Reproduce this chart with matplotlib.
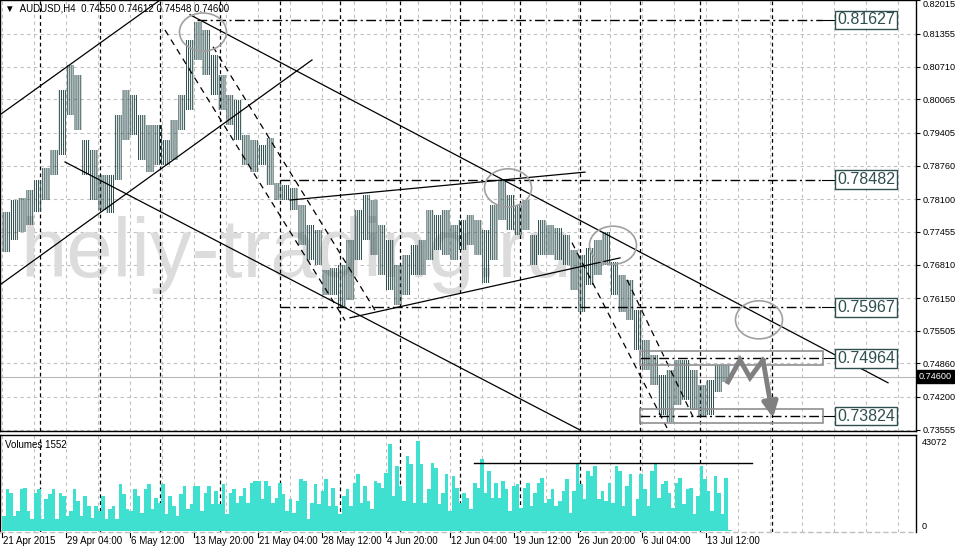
import numpy as np
import matplotlib
matplotlib.use("Agg")
import matplotlib.pyplot as plt
from matplotlib.patches import Ellipse, Rectangle

# ---------------- data ----------------
# H4 bars, sampled every 4 bars (bar 0 = 21 Apr 2015 20:00)
bar_high = [0.7784, 0.7808, 0.7812, 0.7828, 0.7848, 0.7871, 0.7907, 0.8025, 0.8074, 0.8054,
            0.7926, 0.7907, 0.7857, 0.7857, 0.7976, 0.8025, 0.8015, 0.7976, 0.7956, 0.7956,
            0.7926, 0.7966, 0.8015, 0.8123, 0.8159, 0.8143, 0.8094, 0.8054, 0.8015, 0.8005,
            0.7936, 0.7926, 0.7917, 0.7930, 0.7842, 0.7838, 0.7832, 0.7798, 0.7759, 0.7749,
            0.7670, 0.7674, 0.7680, 0.7729, 0.7788, 0.7818, 0.7808, 0.7759, 0.7729, 0.7680,
            0.7700, 0.7720, 0.7729, 0.7788, 0.7779, 0.7788, 0.7759, 0.7769, 0.7779, 0.7769,
            0.7749, 0.7798, 0.7848, 0.7818, 0.7798, 0.7808, 0.7739, 0.7769, 0.7759, 0.7753,
            0.7739, 0.7710, 0.7700, 0.7714, 0.7729, 0.7745, 0.7686, 0.7660, 0.7651, 0.7591,
            0.7532, 0.7503, 0.7463, 0.7473, 0.7493, 0.7493, 0.7473, 0.7444, 0.7454, 0.7483,
            0.7483]
bar_low = [0.7706, 0.7729, 0.7745, 0.7759, 0.7784, 0.7808, 0.7857, 0.7897, 0.7976, 0.7946,
           0.7857, 0.7808, 0.7788, 0.7782, 0.7848, 0.7926, 0.7936, 0.7887, 0.7863, 0.7877,
           0.7877, 0.7887, 0.7946, 0.7985, 0.8084, 0.8054, 0.8015, 0.7985, 0.7956, 0.7926,
           0.7877, 0.7863, 0.7877, 0.7838, 0.7808, 0.7808, 0.7788, 0.7720, 0.7690, 0.7680,
           0.7621, 0.7621, 0.7595, 0.7611, 0.7690, 0.7729, 0.7700, 0.7660, 0.7631, 0.7601,
           0.7621, 0.7660, 0.7660, 0.7690, 0.7710, 0.7700, 0.7690, 0.7710, 0.7720, 0.7700,
           0.7645, 0.7690, 0.7769, 0.7749, 0.7739, 0.7749, 0.7680, 0.7700, 0.7700, 0.7690,
           0.7680, 0.7631, 0.7587, 0.7641, 0.7660, 0.7680, 0.7621, 0.7587, 0.7572, 0.7513,
           0.7473, 0.7444, 0.7385, 0.7371, 0.7404, 0.7414, 0.7394, 0.7381, 0.7385, 0.7430,
           0.7450]

# tick volume (thousands), left to right
volume_k = [6.9, 19.4, 17.6, 6.9, 9.3, 19.4, 19.9, 9.3, 5.6, 17.6, 19.4, 5.6, 14.8, 17.1, 19.4,
            5.6, 17.6, 16.2, 6.9, 9.3, 19.4, 13.9, 6.9, 16.2, 11.6, 6.0, 11.6, 9.3, 16.2, 5.6,
            10.2, 11.6, 5.6, 21.8, 17.1, 10.2, 9.3, 19.4, 16.2, 8.3, 19.4, 21.8, 10.2, 15.3, 13.0,
            21.8, 7.9, 16.2, 11.6, 6.9, 17.1, 20.8, 10.2, 12.5, 20.8, 20.8, 9.3, 17.6, 20.8, 12.5,
            18.5, 12.5, 21.8, 7.9, 17.6, 19.4, 13.0, 16.2, 19.9, 13.0, 22.2, 23.2,
            23.2, 14.8, 23.2, 20.8, 13.0, 15.3, 22.2, 17.1, 9.3, 14.8, 8.3, 13.9, 24.1, 23.2, 5.6,
            13.0, 21.8, 12.5, 18.5, 24.1, 11.6, 19.9, 11.6, 7.9, 16.2, 19.4, 11.6, 22.2, 26.4, 13.0,
            20.8, 13.9, 10.2, 23.2, 22.2, 19.9, 26.9, 40.3, 16.2, 30.1, 20.8, 13.9, 34.7, 31.0, 13.0,
            41.7, 31.0, 13.0, 19.4, 31.5, 29.2, 12.5, 17.6, 26.4, 9.3, 25.5, 19.9, 13.0, 17.6, 15.3,
            10.2, 22.2,
            19.9, 33.3, 17.6, 27.8, 15.3, 22.2, 15.3, 23.2, 19.4, 9.3, 20.8, 21.8, 10.6, 19.9, 22.2,
            11.6, 17.6, 22.2, 24.5, 13.0, 14.8, 19.4, 11.6, 13.9, 18.5, 24.1, 8.3, 18.5, 31.0, 21.8,
            14.8, 27.8, 25.5, 30.1, 14.8, 18.5, 13.9, 22.2, 13.0, 30.1, 27.8, 11.6, 20.8, 26.4, 6.9,
            14.8, 26.4, 19.4, 11.6, 27.8, 31.5, 15.3, 21.8, 23.2, 17.6, 10.6, 22.2, 24.5, 12.5, 19.4,
            19.9, 7.9, 16.2, 30.1, 24.1, 18.5, 9.3, 25.5, 17.6, 7.9, 24.5, 0.5]

price_ticks = [0.82015, 0.81355, 0.80710, 0.80065, 0.79405, 0.78760, 0.78100,
               0.77455, 0.76810, 0.76150, 0.75505, 0.74860, 0.74200, 0.73555]
time_labels = ["21 Apr 2015", "29 Apr 04:00", "6 May 12:00", "13 May 20:00", "21 May 04:00",
               "28 May 12:00", "4 Jun 20:00", "12 Jun 04:00", "19 Jun 12:00", "26 Jun 20:00",
               "6 Jul 04:00", "13 Jul 12:00"]
week_starts = [19, 49, 79, 109, 139, 169, 199, 229, 259, 289, 319, 349, 385]
levels = [0.81627, 0.78482, 0.75967, 0.74964, 0.73824]
level_start = [97.5, 139, 139, 319, 319]
last_price = 0.74600
vol_max = 43072
vol_line = 31500

# analyst drawings: (bar, price) anchor pairs
trend_lines = [((-1, 0.7976), (79, 0.8202)),
               ((-1, 0.7641), (155, 0.8084)),
               ((94, 0.8173), (443, 0.7448)),
               ((31.5, 0.7883), (289, 0.7355)),
               ((144, 0.7808), (291.5, 0.7863)),
               ((174, 0.7576), (309, 0.7694))]
dashed_lines = [((81.5, 0.8143), (171.5, 0.7571)),
                ((105.5, 0.8110), (186.5, 0.7591)),
                ((285, 0.7724), (332.5, 0.7359)),
                ((312.5, 0.7651), (345.5, 0.7381))]
circles = [(100.5, 0.8139), (253, 0.7832), (305.5, 0.7719), (378.5, 0.7572)]
arrow_path = [(363, 0.7450), (369, 0.7493), (374, 0.7458), (380.5, 0.7493), (385.5, 0.7379)]

# ---------------- figure ----------------
W, H = 955, 548
plt.rcParams["hatch.linewidth"] = 0.75
fig = plt.figure(figsize=(W / 100, H / 100), dpi=100)
fnt = "Liberation Sans"
bar_col = "#2f4f4f"
grid_col = "#c0c0c0"

ax = fig.add_axes([0, (H - 431) / H, 916 / W, 431 / H])
axv = fig.add_axes([0, 16 / H, 916 / W, 97 / H])

xmin, xmax = -1, 457
ax.set_xlim(xmin, xmax)
ax.set_ylim(0.73530, 0.82021)
axv.set_xlim(xmin, xmax)
axv.set_ylim(-463, 44461)

for a in (ax, axv):
    for s in ["top", "right", "left", "bottom"]:
        a.spines[s].set_color("black")
        a.spines[s].set_linewidth(1)
    a.set_xticks([])

# grid
grid_x = np.arange(0, 458, 16)
for a in (ax, axv):
    for gx in grid_x:
        a.axvline(gx, color=grid_col, lw=0.8, ls=(0, (3, 3)), zorder=0)
    for wx in week_starts:
        a.axvline(wx, color="black", lw=0.9, ls=(0, (3, 2.5)), zorder=1)
for t in price_ticks:
    ax.axhline(t, color=grid_col, lw=0.8, ls=(0, (3, 3)), zorder=0)

# watermark
ax.text(20 / 916, 1 - 277 / 431, "heliy-trading.ru", transform=ax.transAxes,
        fontsize=60, color="#dcdcdc", family=fnt, va="baseline", ha="left", zorder=0.5)

# current price line
ax.axhline(last_price, color="#b8b8b8", lw=0.8, zorder=1)

# price bars: each sample covers 4 H4 bars, drawn as a hatched range
bx = np.arange(len(bar_high)) * 4
ax.bar(bx, np.array(bar_high) - np.array(bar_low), bottom=bar_low, width=4, align="edge",
       facecolor="none", edgecolor=bar_col, hatch="|" * 8, linewidth=0, zorder=3)

# trend lines
for (x0, y0), (x1, y1) in trend_lines:
    ax.plot([x0, x1], [y0, y1], color="black", lw=0.9, zorder=4)
for (x0, y0), (x1, y1) in dashed_lines:
    ax.plot([x0, x1], [y0, y1], color="black", lw=0.9, ls=(0, (5, 4)), zorder=4)

# horizontal levels + labels
for lv, x0 in zip(levels, level_start):
    ax.plot([x0, 410], [lv, lv], color="black", lw=1.0, ls=(0, (7, 2.5, 1.5, 2.5)), zorder=4)
    ax.plot([410, 417], [lv, lv], color="black", lw=0.8, zorder=4)
    ax.text(417.5, lv, f"{lv:.5f}", fontsize=11.5, family=fnt, color=bar_col,
            va="center", ha="left", zorder=6,
            bbox=dict(boxstyle="square,pad=0.12", fc="white", ec=bar_col, lw=1))

# boxes around the last two levels
for lv in levels[3:]:
    ax.add_patch(Rectangle((319, lv - 0.0014), 91.5, 0.0028, fill=False,
                           ec="#909090", lw=1.2, zorder=5))

# circles
for cx, cy in circles:
    ax.add_patch(Ellipse((cx, cy), 23.5, 0.0075, fill=False, ec="#a0a0a0", lw=1.2, zorder=5))

# forecast arrow
px = [p[0] for p in arrow_path]
py = [p[1] for p in arrow_path]
ax.plot(px[:-1], py[:-1], color="#808080", lw=3.5, solid_joinstyle="miter", zorder=6)
ax.annotate("", xy=(px[-1], py[-1]), xytext=(px[-2], py[-2]),
            arrowprops=dict(arrowstyle="-|>,head_width=0.45,head_length=0.9",
                            color="#808080", lw=3.5, shrinkA=0, shrinkB=0), zorder=6)

# right axis
ax.yaxis.tick_right()
ax.set_yticks(price_ticks)
ax.set_yticklabels([f"{t:.5f}" for t in price_ticks], fontsize=6.6, family=fnt)
ax.get_yticklabels()[0].set_va("top")
ax.tick_params(axis="y", direction="out", length=3, width=0.8, pad=2)
ax.text(1.003, last_price, f"{last_price:.5f}", transform=ax.get_yaxis_transform(),
        fontsize=6.6, family=fnt, color="white", va="center", ha="left", zorder=10,
        bbox=dict(boxstyle="square,pad=0.2", fc="black", ec="black"), clip_on=False)

ax.text(0.006, 0.992, "\u25bc  AUDUSD,H4  0.74550 0.74612 0.74548 0.74600",
        transform=ax.transAxes, fontsize=7, family=fnt, va="top", ha="left", zorder=10)

# volumes
vx = np.linspace(0, 363, len(volume_k))
vw = vx[1] - vx[0]
axv.bar(vx, np.array(volume_k) * 1000, width=vw, color="#40e0d0", align="edge", zorder=2)
axv.plot([236, 375], [vol_line, vol_line], color="black", lw=1.0, zorder=4)
axv.text(0.006, 0.95, "Volumes 1552", transform=axv.transAxes, fontsize=7, family=fnt,
         va="top", ha="left")
axv.yaxis.tick_right()
axv.set_yticks([0, vol_max])
axv.set_yticklabels(["0", str(vol_max)], fontsize=6.6, family=fnt)
axv.get_yticklabels()[0].set_va("bottom")
axv.get_yticklabels()[1].set_va("top")
axv.tick_params(axis="y", length=0, pad=4)
axv.spines["bottom"].set_color(grid_col)
axv.spines["bottom"].set_linestyle((0, (3, 3)))

# time labels
for i, lab in enumerate(time_labels):
    b = i * 32
    fig.text((2 + 2 * b + 1) / W, 1 - 541 / H, lab, fontsize=7, family=fnt,
             va="center", ha="left")
    fig.add_artist(plt.Line2D([(2 + 2 * b) / W] * 2, [1 - 533 / H, 1 - 537 / H],
                              color="black", lw=0.8))

fig.savefig("out.png", dpi=100)
